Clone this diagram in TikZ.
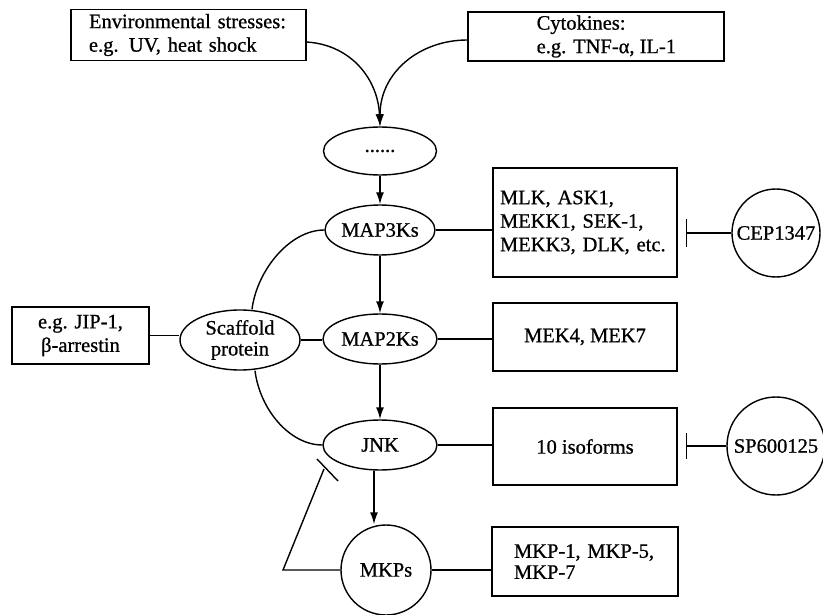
\documentclass[tikz,border=0pt]{standalone}
\usepackage{fontspec}
\setmainfont{Liberation Serif}[FakeBold=0.8]
\usetikzlibrary{arrows.meta,shapes.geometric}
\begin{document}
\begin{tikzpicture}[x=1pt,y=-1pt,
  every node/.style={font=\fontsize{20.5}{23.5}\selectfont, line width=1.4pt},
  box/.style={draw, rectangle, inner sep=0pt},
  oval/.style={draw, ellipse, inner sep=0pt},
  circ/.style={draw, circle, inner sep=0pt},
  link/.style={line width=1.4pt},
  act/.style={link, -{Latex[length=12pt,width=8pt]}},
]
\useasboundingbox (0,0) rectangle (823,615);

% top inputs
\node[box, minimum width=235pt, minimum height=51pt, text width=199pt, align=left] (env) at (188.5,35) {Environmental stresses:\\ e.g. UV, heat shock};
\node[box, minimum width=256pt, minimum height=49pt] (cyto) at (596,36.5) {};
\node[anchor=west, align=left, inner sep=0pt] (cytotext) at (536,36.5) {Cytokines:\\ e.g. TNF-α, IL-1};

% main column
\node[oval, minimum width=113pt, minimum height=48pt] (dots) at (380,151) {......};
\node[oval, minimum width=110pt, minimum height=50pt] (map3) at (380,230) {MAP3Ks};
\node[oval, minimum width=114pt, minimum height=50pt] (map2) at (380,339) {MAP2Ks};
\node[oval, minimum width=114pt, minimum height=50pt] (jnk) at (380,445) {JNK};
\node[circ, minimum size=90pt] (mkps) at (386,570) {MKPs};

% right boxes
\node[box, minimum width=184pt, minimum height=109pt, text width=170pt, align=left] (mlk) at (585,222.5) {MLK, ASK1,\\ MEKK1, SEK-1,\\ MEKK3, DLK, etc.};
\node[box, minimum width=184pt, minimum height=68pt] (mek) at (585,337) {MEK4, MEK7};
\node[box, minimum width=184pt, minimum height=77pt] (iso) at (585,446.5) {10 isoforms};
\node[box, minimum width=186pt, minimum height=69pt, text width=142pt, align=left, font=\fontsize{20.5}{21}\selectfont] (mkpbox) at (585,561.5) {MKP-1, MKP-5,\\ MKP-7};

% inhibitors
\node[circ, minimum size=88pt] (cep) at (776,233) {CEP1347};
\node[circ, minimum size=98pt] (sp) at (776,446) {SP600125};

% scaffold
\node[oval, minimum width=120pt, minimum height=60pt, align=center, font=\fontsize{20.5}{21}\selectfont] (scaf) at (240,340) {Scaffold\\protein};
\node[box, minimum width=137pt, minimum height=57pt, align=center] (jip) at (80.5,335.5) {e.g. JIP-1,\\ β-arrestin};

% input curves
\draw[act] ([yshift=-7pt]env.east) .. controls (352,45) and (378,80) .. (dots.north);
\draw[act] ([yshift=-3.5pt]cyto.west) .. controls (420,40) and (380,72) .. (dots.north);

% cascade arrows
\draw[act] (dots) -- (map3);
\draw[act] (map3) -- (map2);
\draw[act] (map2) -- (jnk);
\draw[act] ([xshift=-6pt]jnk.south) -- ([xshift=-6pt]jnk.south |- mkps.north);

% links to boxes
\draw[link] (map3.east) -- (map3.east -| mlk.west);
\draw[link] (map2.east) -- (map2.east -| mek.west);
\draw[link] (jnk.east) -- (jnk.east -| iso.west);
\draw[link] (mkps.east) -- (mkps.east -| mkpbox.west);

% inhibitor bars
\coordinate (cepbar) at ([xshift=8pt]mlk.east |- cep.west);
\draw[link, -{Bar[width=28pt]}] (cep.west) -- (cepbar);
\coordinate (spbar) at ([xshift=8pt]iso.east |- sp.west);
\draw[link, -{Bar[width=26pt]}] (sp.west) -- (spbar);

% scaffold links
\draw[link] (jip.east) -- (jip.east -| scaf.west);
\draw[link] (scaf.east) -- (scaf.east -| map2.west);
\draw[link] ([xshift=12pt]scaf.north) .. controls (257,270) and (290,230) .. (map3.west);
\draw[link] ([xshift=15pt]scaf.south) .. controls (260,410) and (290,445) .. (jnk.west);

% feedback
\coordinate (fbc) at (283,570);
\coordinate (fbe) at (324,469);
\coordinate (fbb1) at (317,459);
\coordinate (fbb2) at (338,481);
\draw[link] (mkps.west) -- (fbc) -- (fbe);
\draw[link] (fbb1) -- (fbb2);
\end{tikzpicture}
\end{document}
